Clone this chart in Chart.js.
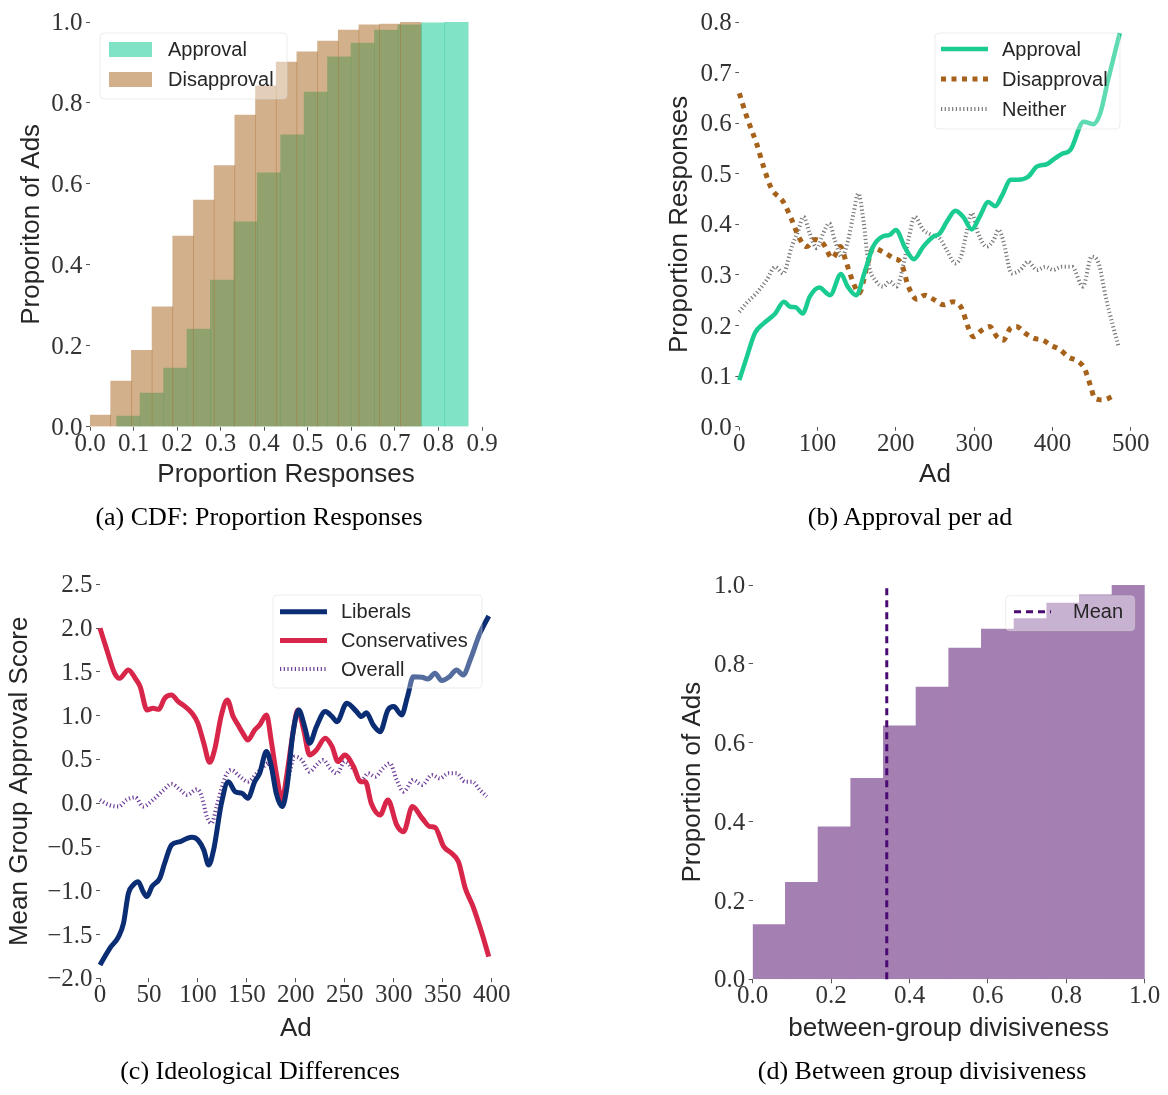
<!DOCTYPE html>
<html>
<head>
<meta charset="utf-8">
<script src="https://cdn.jsdelivr.net/npm/chart.js@4.4.1/dist/chart.umd.min.js"></script>
<style>
  html, body { margin: 0; padding: 0; background: #fff; }
  #fig { position: relative; width: 1168px; height: 1095px; overflow: hidden; background: #fff; }
  #fig canvas { position: absolute; }
  .cap { position: absolute; width: 500px; text-align: center; font: 26px "Liberation Serif", "Times New Roman", serif; line-height: 30px; color: #000; white-space: nowrap; }
</style>
</head>
<body>
<div id="fig">
  <canvas id="cdf" width="584" height="500" style="left:0;top:0"></canvas>
  <canvas id="perAd" width="584" height="500" style="left:584px;top:0"></canvas>
  <canvas id="ideology" width="584" height="595" style="left:0;top:500px"></canvas>
  <canvas id="divisive" width="584" height="595" style="left:584px;top:500px"></canvas>
  <div class="cap" style="left:9px;top:502px">(a) CDF: Proportion Responses</div>
  <div class="cap" style="left:660px;top:502px">(b) Approval per ad</div>
  <div class="cap" style="left:10px;top:1056px">(c) Ideological Differences</div>
  <div class="cap" style="left:672px;top:1056px">(d) Between group divisiveness</div>
</div>
<script>
// ---------- (a) cumulative histograms of response proportions ----------
const approvalBinCenters = [0.0881, 0.1419, 0.1957, 0.2495, 0.3033, 0.3571, 0.4109, 0.4647, 0.5185, 0.5723, 0.6261, 0.6799, 0.7337, 0.7875, 0.8413];
const approvalCdf = [0.026, 0.083, 0.145, 0.241, 0.362, 0.506, 0.627, 0.721, 0.827, 0.914, 0.948, 0.980, 0.993, 0.998, 1.0];
const disapprovalBinCenters = [0.02375, 0.07125, 0.11875, 0.16625, 0.21375, 0.26125, 0.30875, 0.35625, 0.40375, 0.45125, 0.49875, 0.54625, 0.59375, 0.64125, 0.68875, 0.73625];
const disapprovalCdf = [0.029, 0.113, 0.189, 0.296, 0.471, 0.560, 0.645, 0.770, 0.842, 0.901, 0.926, 0.953, 0.980, 0.993, 0.995, 1.0];

// ---------- (b) response shares per ad (ads ordered by approval) ----------
const approvalAds = [0, 9, 20, 31, 46, 57, 65, 72, 81, 90, 102, 116, 130, 138, 149, 161, 171, 183, 192, 200, 212, 223, 235, 248, 256, 265, 276, 286, 297, 307, 318, 327, 335, 347, 356, 369, 380, 393, 401, 412, 423, 440, 452, 461, 471, 486];
const approvalShare = [0.092, 0.135, 0.185, 0.204, 0.224, 0.247, 0.237, 0.236, 0.224, 0.257, 0.275, 0.260, 0.302, 0.278, 0.260, 0.310, 0.356, 0.376, 0.379, 0.389, 0.353, 0.331, 0.356, 0.376, 0.382, 0.405, 0.427, 0.415, 0.390, 0.415, 0.444, 0.436, 0.455, 0.488, 0.488, 0.494, 0.514, 0.519, 0.528, 0.539, 0.547, 0.603, 0.598, 0.619, 0.685, 0.778];
const disapprovalAds = [0, 11, 22, 31, 41, 56, 67, 77, 86, 97, 107, 119, 129, 137, 146, 153, 163, 171, 183, 197, 207, 216, 227, 237, 250, 261, 273, 284, 293, 299, 310, 320, 329, 337, 346, 354, 365, 376, 388, 398, 410, 420, 433, 441, 449, 454, 465, 480];
const disapprovalShare = [0.659, 0.606, 0.560, 0.514, 0.471, 0.445, 0.409, 0.372, 0.356, 0.370, 0.362, 0.333, 0.356, 0.323, 0.283, 0.264, 0.316, 0.353, 0.346, 0.333, 0.323, 0.277, 0.252, 0.260, 0.250, 0.241, 0.247, 0.234, 0.194, 0.178, 0.191, 0.198, 0.178, 0.171, 0.194, 0.198, 0.185, 0.175, 0.171, 0.161, 0.152, 0.138, 0.129, 0.115, 0.079, 0.056, 0.053, 0.063];
const neitherAds = [0, 9, 22, 35, 46, 56, 67, 75, 82, 90, 99, 107, 115, 122, 131, 139, 146, 152, 158, 165, 175, 184, 192, 201, 210, 216, 224, 235, 246, 256, 265, 276, 284, 290, 297, 305, 316, 325, 331, 337, 348, 359, 369, 380, 391, 401, 412, 425, 439, 450, 459, 469, 484];
const neitherShare = [0.227, 0.244, 0.264, 0.290, 0.316, 0.303, 0.356, 0.386, 0.415, 0.382, 0.353, 0.382, 0.402, 0.369, 0.336, 0.369, 0.422, 0.461, 0.415, 0.323, 0.287, 0.277, 0.287, 0.277, 0.323, 0.369, 0.415, 0.389, 0.379, 0.372, 0.349, 0.323, 0.340, 0.382, 0.422, 0.382, 0.356, 0.369, 0.389, 0.369, 0.303, 0.310, 0.326, 0.310, 0.316, 0.310, 0.316, 0.316, 0.277, 0.336, 0.323, 0.250, 0.161];

// ---------- (c) mean approval score by ideological group ----------
const liberalAds = [0, 10, 19, 24, 29, 34, 39, 44, 48, 53, 61, 66, 73, 82, 89, 94, 100, 106, 111, 116, 124, 131, 138, 145, 151, 158, 163, 170, 175, 180, 186, 191, 197, 203, 209, 214, 221, 230, 237, 242, 252, 262, 267, 272, 279, 286, 294, 300, 308, 314, 320, 329, 335, 342, 349, 357, 364, 371, 378, 388, 397];
const liberalScore = [-1.848, -1.657, -1.524, -1.372, -1.029, -0.934, -0.896, -1.010, -1.067, -0.953, -0.858, -0.686, -0.477, -0.439, -0.401, -0.390, -0.420, -0.534, -0.706, -0.534, -0.001, 0.246, 0.132, 0.113, 0.056, 0.246, 0.341, 0.589, 0.417, 0.113, -0.039, 0.189, 0.798, 1.065, 0.874, 0.684, 0.874, 1.046, 0.989, 0.931, 1.141, 1.046, 0.989, 1.034, 0.893, 0.817, 1.065, 1.103, 1.008, 1.217, 1.445, 1.438, 1.419, 1.484, 1.400, 1.445, 1.522, 1.464, 1.636, 1.940, 2.138];
const conservativeAds = [0, 7, 15, 20, 29, 36, 41, 48, 54, 60, 66, 73, 80, 87, 94, 100, 106, 112, 117, 124, 130, 136, 141, 146, 151, 158, 163, 170, 175, 180, 186, 191, 197, 202, 208, 214, 221, 230, 237, 243, 250, 259, 266, 271, 277, 286, 294, 303, 310, 319, 329, 337, 342, 351, 359, 366, 373, 381, 390, 397];
const conservativeScore = [1.997, 1.750, 1.483, 1.426, 1.522, 1.426, 1.331, 1.065, 1.084, 1.072, 1.198, 1.236, 1.160, 1.103, 1.027, 0.912, 0.684, 0.467, 0.608, 1.008, 1.179, 0.989, 0.893, 0.798, 0.722, 0.836, 0.893, 1.008, 0.703, 0.341, 0.037, 0.341, 0.798, 1.065, 0.836, 0.551, 0.608, 0.741, 0.646, 0.475, 0.551, 0.417, 0.246, 0.246, -0.001, -0.134, 0.037, -0.249, -0.325, -0.039, -0.172, -0.268, -0.275, -0.496, -0.572, -0.667, -0.972, -1.181, -1.486, -1.752];
const overallAds = [0, 9, 19, 27, 36, 44, 54, 65, 73, 82, 89, 99, 104, 109, 114, 119, 128, 134, 143, 151, 160, 167, 172, 179, 186, 192, 199, 206, 214, 221, 228, 235, 242, 250, 259, 267, 274, 281, 289, 296, 303, 310, 320, 329, 339, 347, 356, 364, 373, 380, 388, 395];
const overallScore = [0.037, -0.020, -0.039, 0.037, 0.067, -0.039, 0.037, 0.151, 0.220, 0.151, 0.094, 0.159, 0.075, -0.153, -0.230, -0.039, 0.303, 0.379, 0.303, 0.246, 0.341, 0.417, 0.456, 0.227, -0.001, 0.265, 0.532, 0.494, 0.360, 0.436, 0.494, 0.398, 0.341, 0.475, 0.379, 0.265, 0.341, 0.303, 0.398, 0.456, 0.265, 0.132, 0.265, 0.208, 0.322, 0.284, 0.341, 0.341, 0.246, 0.246, 0.151, 0.075];

// ---------- (d) cumulative histogram of between-group divisiveness ----------
const divisivenessBinCenters = [0.0417, 0.125, 0.2083, 0.2917, 0.375, 0.4583, 0.5417, 0.625, 0.7083, 0.7917, 0.875, 0.9583];
const divisivenessCdf = [0.139, 0.246, 0.387, 0.510, 0.643, 0.741, 0.840, 0.888, 0.915, 0.954, 0.975, 1.0];
const divisivenessMean = 0.342;

// ---------- shared styling ----------
const SANS = '"Liberation Sans", Arial, Helvetica, sans-serif';
const SERIF = '"Liberation Serif", "Times New Roman", serif';
Chart.defaults.font.family = SANS;
Chart.defaults.animation = false;

const tickFont = { family: SERIF, size: 25, lineHeight: 1 };
const titleFont = { family: SANS, size: 26, lineHeight: 1.2 };
const fmt1 = v => (v < -1e-9 ? '\u2212' : '') + Math.abs(v).toFixed(1);
const fmt0 = v => String(Math.round(v));
const zip = (xs, ys) => xs.map((x, i) => ({ x, y: ys[i] }));

function tickGrid() {
  return { display: true, drawOnChartArea: false, drawTicks: true, tickLength: 4, tickColor: '#555', tickWidth: 1, offset: false };
}

function xAxis(o) {
  return {
    type: 'linear', position: 'bottom', min: o.min, max: o.max, offset: false,
    border: { display: false },
    grid: tickGrid(),
    ticks: { stepSize: o.step, font: tickFont, color: '#333', padding: 1, maxRotation: 0, autoSkip: false, callback: o.fmt },
    title: { display: true, text: o.title, font: titleFont, color: '#262626', padding: { top: 0, bottom: o.titlePad } },
    afterFit: a => { a.height = o.height; }
  };
}

function yAxis(o) {
  return {
    type: 'linear', position: 'left', min: o.min, max: o.max,
    border: { display: false },
    grid: tickGrid(),
    ticks: { stepSize: o.step, font: tickFont, color: '#333', padding: 3.5, labelOffset: 1.5, callback: o.fmt },
    title: { display: true, text: o.title, font: titleFont, color: '#262626', padding: { top: o.titlePad, bottom: 0 } },
    afterFit: a => { a.width = o.width; }
  };
}

// hidden twin axis so each histogram keeps its own bin width
function twinAxis(min, max, step) {
  return { type: 'linear', display: false, min, max, offset: false, grid: { offset: false }, ticks: { stepSize: step } };
}

// legend drawn inside the plot, built from the dataset labels and styles
const insetLegend = {
  id: 'insetLegend',
  afterDraw(chart, args, o) {
    const ctx = chart.ctx;
    ctx.save();
    ctx.beginPath();
    ctx.roundRect(o.x, o.y, o.w, o.h, 4);
    ctx.fillStyle = o.fill;
    ctx.fill();
    ctx.strokeStyle = 'rgba(215,215,215,0.45)';
    ctx.lineWidth = 1;
    ctx.stroke();
    ctx.font = '20px ' + SANS;
    ctx.textBaseline = 'middle';
    ctx.textAlign = 'left';
    let row = 0;
    chart.data.datasets.forEach(ds => {
      if (!ds.label) return;
      const cy = o.firstRow + row * o.rowStep;
      const isPatch = (ds.type || chart.config.type) === 'bar';
      if (isPatch) {
        ctx.fillStyle = ds.backgroundColor;
        ctx.fillRect(o.sampleX, cy - 7.5, o.sampleW, 15);
      } else {
        ctx.save();
        ctx.strokeStyle = ds.borderColor;
        ctx.lineWidth = ds.borderWidth;
        ctx.lineCap = 'butt';
        ctx.setLineDash(ds.borderDash || []);
        ctx.beginPath();
        ctx.moveTo(o.sampleX, cy);
        ctx.lineTo(o.sampleX + o.sampleW, cy);
        ctx.stroke();
        ctx.restore();
      }
      ctx.fillStyle = '#262626';
      ctx.fillText(ds.label, o.textX, cy + 1);
      row++;
    });
    ctx.restore();
  }
};

const baseOptions = {
  responsive: false,
  devicePixelRatio: 1,
  animation: false,
  events: [],
};

function lineDataset(label, data, color, width, dash) {
  return {
    label, data, borderColor: color, backgroundColor: color, borderWidth: width,
    borderDash: dash, borderCapStyle: 'butt', borderJoinStyle: 'round',
    pointRadius: 0, cubicInterpolationMode: 'monotone', fill: false, clip: false
  };
}

// ---------- (a) ----------
new Chart(document.getElementById('cdf'), {
  type: 'bar',
  data: {
    datasets: [
      { label: 'Approval', data: zip(approvalBinCenters, approvalCdf), xAxisID: 'xApproval',
        backgroundColor: 'rgba(24,204,150,0.55)', borderWidth: 0, barPercentage: 1, categoryPercentage: 1, grouped: false, order: 1 },
      { label: 'Disapproval', data: zip(disapprovalBinCenters, disapprovalCdf), xAxisID: 'x',
        backgroundColor: 'rgba(166,97,26,0.5)', borderWidth: 0, barPercentage: 1, categoryPercentage: 1, grouped: false, order: 0 }
    ]
  },
  options: Object.assign({}, baseOptions, {
    layout: { padding: { left: 0, top: 22, right: 102, bottom: 0 } },
    scales: {
      x: xAxis({ min: 0, max: 0.9, step: 0.1, fmt: fmt1, title: 'Proportion Responses', height: 73.3, titlePad: 9.6 }),
      xApproval: twinAxis(0, 0.9, 0.1),
      y: yAxis({ min: 0, max: 1, step: 0.2, fmt: fmt1, title: 'Proporiton of Ads', width: 90, titlePad: 16.4 })
    },
    plugins: {
      legend: { display: false }, tooltip: { enabled: false },
      insetLegend: { x: 100, y: 33, w: 187, h: 66, fill: 'rgba(255,255,255,0.4)', firstRow: 49.5, rowStep: 30, sampleX: 109, sampleW: 43, textX: 168 }
    }
  }),
  plugins: [insetLegend]
});

// ---------- (b) ----------
new Chart(document.getElementById('perAd'), {
  type: 'line',
  data: {
    datasets: [
      lineDataset('Approval', zip(approvalAds, approvalShare), 'rgb(26,204,146)', 4.5, []),
      lineDataset('Disapproval', zip(disapprovalAds, disapprovalShare), '#a6611a', 5, [5, 5.5]),
      lineDataset('Neither', zip(neitherAds, neitherShare), '#7a7a7a', 4, [1.2, 2.5])
    ]
  },
  options: Object.assign({}, baseOptions, {
    layout: { padding: { left: 0, top: 22, right: 37.3, bottom: 0 } },
    scales: {
      x: xAxis({ min: 0, max: 500, step: 100, fmt: fmt0, title: 'Ad', height: 73.3, titlePad: 9.6 }),
      y: yAxis({ min: 0, max: 0.8, step: 0.1, fmt: fmt1, title: 'Proportion Responses', width: 155.3, titlePad: 80.4 })
    },
    plugins: {
      legend: { display: false }, tooltip: { enabled: false },
      insetLegend: { x: 351, y: 33, w: 185, h: 96, fill: 'rgba(255,255,255,0.3)', firstRow: 49, rowStep: 30, sampleX: 357, sampleW: 47, textX: 418 }
    }
  }),
  plugins: [insetLegend]
});

// ---------- (c) ----------
new Chart(document.getElementById('ideology'), {
  type: 'line',
  data: {
    datasets: [
      lineDataset('Liberals', zip(liberalAds, liberalScore), '#0b2d74', 5, []),
      lineDataset('Conservatives', zip(conservativeAds, conservativeScore), '#d8264a', 5, []),
      lineDataset('Overall', zip(overallAds, overallScore), '#6e3f98', 4, [1.2, 2.5])
    ]
  },
  options: Object.assign({}, baseOptions, {
    layout: { padding: { left: 0, top: 84.3, right: 584 - 491.7, bottom: 0 } },
    scales: {
      x: xAxis({ min: 0, max: 400, step: 50, fmt: fmt0, title: 'Ad', height: 116.7, titlePad: 50.9 }),
      y: yAxis({ min: -2, max: 2.5, step: 0.5, fmt: fmt1, title: 'Mean Group Approval Score', width: 100, titlePad: 4.4 })
    },
    plugins: {
      legend: { display: false }, tooltip: { enabled: false },
      insetLegend: { x: 273, y: 95, w: 209, h: 93, fill: 'rgba(255,255,255,0.3)', firstRow: 111.7, rowStep: 28.7, sampleX: 280, sampleW: 47, textX: 341 }
    }
  }),
  plugins: [insetLegend]
});

// ---------- (d) ----------
new Chart(document.getElementById('divisive'), {
  type: 'bar',
  data: {
    datasets: [
      { data: zip(divisivenessBinCenters, divisivenessCdf), backgroundColor: '#a47fb2', borderWidth: 0,
        barPercentage: 1, categoryPercentage: 1, order: 1 },
      Object.assign(lineDataset('Mean', [{ x: divisivenessMean, y: 0 }, { x: divisivenessMean, y: 1 }], '#4a0a72', 3, [7, 5]),
        { type: 'line', order: 0, cubicInterpolationMode: 'default', tension: 0 })
    ]
  },
  options: Object.assign({}, baseOptions, {
    layout: { padding: { left: 0, top: 85, right: 23.3, bottom: 0 } },
    scales: {
      x: xAxis({ min: 0, max: 1, step: 0.2, fmt: fmt1, title: 'between-group divisiveness', height: 115.7, titlePad: 50.9 }),
      y: yAxis({ min: 0, max: 1, step: 0.2, fmt: fmt1, title: 'Proportion of Ads', width: 168.7, titlePad: 93.4 })
    },
    plugins: {
      legend: { display: false }, tooltip: { enabled: false },
      insetLegend: { x: 421.7, y: 95.7, w: 129, h: 35, fill: 'rgba(255,255,255,0.4)', firstRow: 111.7, rowStep: 30, sampleX: 430, sampleW: 37, textX: 489 }
    }
  }),
  plugins: [insetLegend]
});
</script>
</body>
</html>
